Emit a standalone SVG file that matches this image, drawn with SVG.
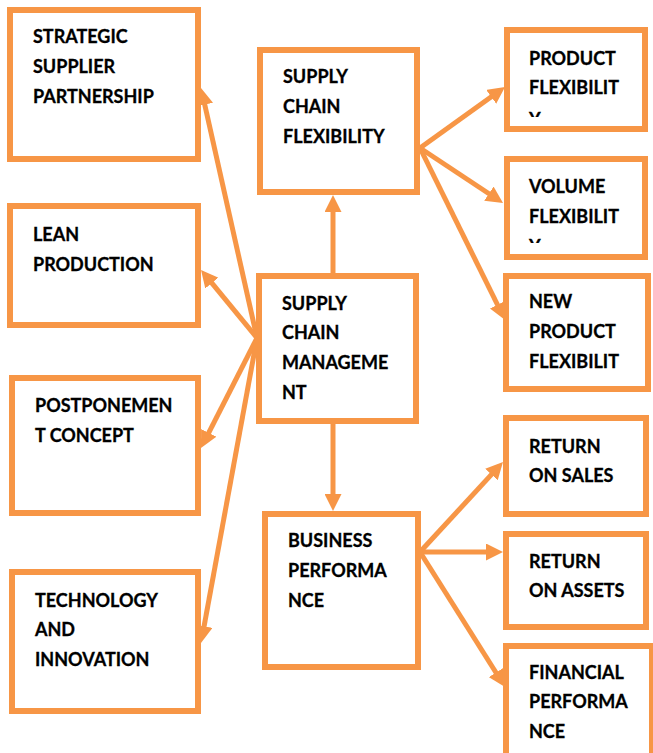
<svg xmlns="http://www.w3.org/2000/svg" width="653" height="753" viewBox="0 0 653 753">
<style>
.box{fill:#fff;stroke:#F79646;stroke-width:6}
.lbl{font-family:Lato,"Liberation Sans",Arial,sans-serif;font-weight:bold;font-size:18px;fill:#000;stroke:#000;stroke-width:0.3}
.con{stroke:#F79646;stroke-width:5;fill:none;marker-end:url(#ah)}
</style>
<defs>
<marker id="ah" markerUnits="userSpaceOnUse" markerWidth="17" markerHeight="17" viewBox="0 0 17 17" refX="7" refY="8.5" orient="auto">
<path d="M0,0 L17,8.5 L0,17 z" fill="#F79646"/>
</marker>
<clipPath id="clipProd"><rect x="507" y="30" width="138" height="87"/></clipPath>
<clipPath id="clipVol"><rect x="507" y="159" width="138" height="84"/></clipPath>
</defs>
<rect width="653" height="753" fill="#fff"/>
<g id="connectors">
<line class="con" x1="257" y1="338" x2="203.2" y2="97.8"/>
<line class="con" x1="257" y1="338" x2="207.4" y2="277.7"/>
<line class="con" x1="257" y1="338" x2="205.5" y2="439.1"/>
<line class="con" x1="257" y1="338" x2="202.8" y2="633.2"/>
<line class="con" x1="333" y1="273" x2="333" y2="205"/>
<line class="con" x1="333" y1="424" x2="333" y2="501"/>
<line class="con" x1="420" y1="148" x2="496.9" y2="92.8"/>
<line class="con" x1="420" y1="148" x2="494.7" y2="197.5"/>
<line class="con" x1="420" y1="148" x2="500.6" y2="311"/>
<line class="con" x1="420" y1="552" x2="496.2" y2="469.4"/>
<line class="con" x1="420" y1="552" x2="493" y2="552"/>
<line class="con" x1="420" y1="552" x2="499.7" y2="678.5"/>
</g>
<g id="strategic">
<rect class="box" x="10" y="10" width="188" height="149"/>
<text class="lbl" x="33" y="43">STRATEGIC</text>
<text class="lbl" x="33" y="73">SUPPLIER</text>
<text class="lbl" x="33" y="103">PARTNERSHIP</text>
</g>
<g id="lean">
<rect class="box" x="10" y="206" width="188" height="119"/>
<text class="lbl" x="33" y="241">LEAN</text>
<text class="lbl" x="33" y="271">PRODUCTION</text>
</g>
<g id="postponement">
<rect class="box" x="12" y="378" width="186" height="135"/>
<text class="lbl" x="35" y="412">POSTPONEMEN</text>
<text class="lbl" x="35" y="442">T CONCEPT</text>
</g>
<g id="technology">
<rect class="box" x="12" y="572" width="186" height="139"/>
<text class="lbl" x="35" y="607">TECHNOLOGY</text>
<text class="lbl" x="35" y="636">AND</text>
<text class="lbl" x="35" y="666">INNOVATION</text>
</g>
<g id="scf">
<rect class="box" x="260" y="50" width="157" height="142"/>
<text class="lbl" x="283" y="83">SUPPLY</text>
<text class="lbl" x="283" y="113">CHAIN</text>
<text class="lbl" x="283" y="143">FLEXIBILITY</text>
</g>
<g id="scm">
<rect class="box" x="259" y="276" width="157" height="145"/>
<text class="lbl" x="282" y="310">SUPPLY</text>
<text class="lbl" x="282" y="339">CHAIN</text>
<text class="lbl" x="282" y="369">MANAGEME</text>
<text class="lbl" x="282" y="399">NT</text>
</g>
<g id="bp">
<rect class="box" x="265" y="514" width="153" height="153"/>
<text class="lbl" x="288" y="547">BUSINESS</text>
<text class="lbl" x="288" y="577">PERFORMA</text>
<text class="lbl" x="288" y="607">NCE</text>
</g>
<g id="product">
<rect class="box" x="507" y="30" width="138" height="99"/>
<g clip-path="url(#clipProd)">
<text class="lbl" x="529" y="65">PRODUCT</text>
<text class="lbl" x="529" y="94">FLEXIBILIT</text>
<text class="lbl" x="529" y="126">Y</text>
</g>
</g>
<g id="volume">
<rect class="box" x="507" y="159" width="138" height="98"/>
<g clip-path="url(#clipVol)">
<text class="lbl" x="529" y="193">VOLUME</text>
<text class="lbl" x="529" y="223">FLEXIBILIT</text>
<text class="lbl" x="529" y="253">Y</text>
</g>
</g>
<g id="newproduct">
<rect class="box" x="506" y="276" width="142" height="113"/>
<text class="lbl" x="529" y="308">NEW</text>
<text class="lbl" x="529" y="338">PRODUCT</text>
<text class="lbl" x="529" y="368">FLEXIBILIT</text>
</g>
<g id="ros">
<rect class="box" x="506" y="418" width="140" height="96"/>
<text class="lbl" x="529" y="453">RETURN</text>
<text class="lbl" x="529" y="482">ON SALES</text>
</g>
<g id="roa">
<rect class="box" x="506" y="534" width="140" height="93"/>
<text class="lbl" x="529" y="568">RETURN</text>
<text class="lbl" x="529" y="597">ON ASSETS</text>
</g>
<g id="financial">
<rect class="box" x="506" y="646" width="146" height="120"/>
<text class="lbl" x="529" y="679">FINANCIAL</text>
<text class="lbl" x="529" y="708">PERFORMA</text>
<text class="lbl" x="529" y="738">NCE</text>
</g>
</svg>
